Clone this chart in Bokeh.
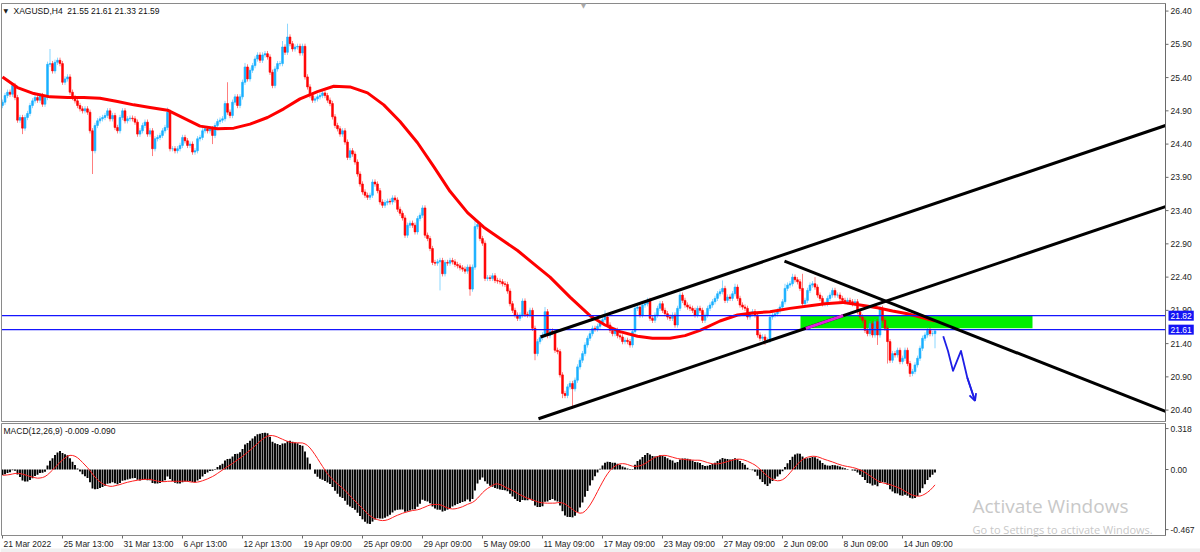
import numpy as np
from bokeh.plotting import figure
from bokeh.layouts import column
from bokeh.models import Range1d, Label, Arrow, OpenHead
from bokeh.embed import file_html
from bokeh.resources import INLINE

# ---------------- data ----------------
symbol_title = "XAGUSD,H4\u00a0\u00a021.55 21.61 21.33 21.59"
macd_title = "MACD(12,26,9) -0.009 -0.090"
watermark_1 = "Activate Windows"
watermark_2 = "Go to Settings to activate Windows."

closes = [
    25.03, 25.13, 25.18, 25.15, 25.28, 25.10, 24.76, 24.80, 24.64, 24.80,   # 0
    24.86, 24.98, 25.05, 25.10, 25.06, 25.13, 25.00, 25.10, 25.60, 25.61,   # 10
    25.50, 25.63, 25.66, 25.61, 25.33, 25.38, 25.41, 25.18, 25.10, 25.05,   # 20
    24.98, 24.93, 24.90, 24.93, 24.88, 24.60, 24.30, 24.68, 24.75, 24.78,   # 30
    24.80, 24.83, 24.90, 24.78, 24.83, 24.65, 24.60, 24.80, 24.90, 24.75,   # 40
    24.78, 24.79, 24.78, 24.73, 24.55, 24.60, 24.68, 24.73, 24.55, 24.60,   # 50
    24.33, 24.48, 24.50, 24.53, 24.60, 24.65, 24.88, 24.33, 24.33, 24.30,   # 60
    24.33, 24.38, 24.50, 24.45, 24.38, 24.40, 24.28, 24.30, 24.48, 24.50,   # 70
    24.60, 24.63, 24.60, 24.63, 24.53, 24.68, 24.74, 24.76, 24.78, 25.01,   # 80
    24.88, 24.83, 25.03, 25.11, 24.98, 25.11, 25.33, 25.56, 25.38, 25.51,   # 90
    25.58, 25.68, 25.74, 25.66, 25.74, 25.76, 25.71, 25.48, 25.28, 25.53,   # 100
    25.61, 25.61, 25.86, 25.78, 26.01, 25.91, 25.83, 25.86, 25.87, 25.77,   # 110
    25.87, 25.41, 25.26, 25.13, 25.06, 25.08, 25.11, 25.13, 25.17, 25.13,   # 120
    25.06, 25.01, 24.81, 24.68, 24.63, 24.55, 24.60, 24.43, 24.20, 24.30,   # 130
    24.25, 24.13, 23.95, 23.80, 23.68, 23.63, 23.60, 23.63, 23.83, 23.80,   # 140
    23.70, 23.53, 23.48, 23.52, 23.54, 23.53, 23.59, 23.56, 23.42, 23.36,   # 150
    23.29, 23.03, 23.18, 23.21, 23.18, 23.08, 23.28, 23.33, 23.44, 23.03,   # 160
    22.98, 22.83, 22.62, 22.61, 22.63, 22.65, 22.45, 22.62, 22.61, 22.65,   # 170
    22.63, 22.59, 22.57, 22.54, 22.52, 22.49, 22.55, 22.22, 22.55, 23.16,   # 180
    23.19, 22.98, 22.91, 22.38, 22.39, 22.38, 22.42, 22.35, 22.34, 22.33,   # 190
    22.30, 22.29, 22.19, 22.00, 21.90, 21.83, 21.78, 21.83, 22.04, 21.84,   # 200
    21.83, 21.90, 21.63, 21.25, 21.43, 21.49, 21.53, 21.88, 21.52, 21.59,   # 210
    21.57, 21.30, 21.28, 20.93, 20.65, 20.62, 20.75, 20.80, 20.72, 20.85,   # 220
    21.05, 21.15, 21.25, 21.38, 21.48, 21.55, 21.63, 21.62, 21.66, 21.72,   # 230
    21.76, 21.80, 21.68, 21.60, 21.55, 21.60, 21.52, 21.50, 21.43, 21.45,   # 240
    21.43, 21.38, 21.58, 21.93, 21.95, 21.83, 21.98, 22.00, 22.05, 21.78,   # 250
    21.75, 21.83, 21.93, 22.00, 21.90, 21.85, 21.80, 21.78, 21.83, 21.68,   # 260
    21.93, 22.13, 22.05, 21.98, 21.95, 21.93, 21.90, 21.83, 21.93, 21.90,   # 270
    21.75, 21.83, 21.93, 21.98, 22.03, 22.08, 22.15, 22.18, 22.23, 22.05,   # 280
    22.10, 22.08, 22.15, 22.25, 22.08, 21.98, 21.95, 21.93, 21.80, 21.85,   # 290
    21.88, 21.83, 21.53, 21.48, 21.50, 21.45, 21.45, 21.80, 21.83, 21.85,   # 300
    21.89, 21.95, 22.03, 22.23, 22.28, 22.30, 22.40, 22.36, 22.33, 22.23,   # 310
    22.00, 22.05, 22.20, 22.28, 22.30, 22.25, 22.13, 22.08, 22.00, 22.00,   # 320
    22.08, 22.13, 22.20, 22.13, 22.13, 22.08, 22.05, 22.03, 22.05, 22.03,   # 330
    22.00, 22.03, 21.88, 21.80, 21.75, 21.60, 21.55, 21.70, 21.53, 21.73,   # 340
    21.53, 21.93, 21.75, 21.63, 21.43, 21.15, 21.25, 21.23, 21.30, 21.13,   # 350
    21.18, 21.30, 21.10, 20.95, 20.98, 21.08, 21.18, 21.33, 21.48, 21.53,   # 360
    21.60, 21.55, 21.55, 21.59,                                             # 370
]
first_open = 24.98
typical_wick = 0.04
high_overrides = {19: 25.83, 66: 24.95, 90: 25.33, 97: 25.62, 112: 25.95, 114: 26.21,
                  189: 23.25, 217: 21.95, 241: 21.90, 288: 22.35, 293: 22.30,
                  313: 22.30, 316: 22.45, 320: 22.45, 325: 22.40, 351: 21.97, 373: 21.61}
low_overrides = {8: 24.55, 36: 23.95, 60: 24.22, 84: 24.40, 175: 22.20, 187: 22.12,
                 213: 21.15, 224: 20.58, 228: 20.42, 305: 21.38, 350: 21.38,
                 354: 21.10, 363: 20.90, 373: 21.33}

# moving average (bar index, price)
ma_bars = [0, 6, 12.5, 19, 26, 32.5, 39, 46, 52.5, 59, 66, 72.5, 79, 86, 92.5, 99,
           106, 112.5, 119, 126, 132.5, 139, 146, 152.5, 159, 166, 172.5, 179, 186,
           192.5, 199, 206, 212.5, 219, 227, 235, 241, 247, 254, 260, 267, 273, 279,
           287, 294, 300, 307, 315, 323, 329, 336, 343, 350, 356, 362, 367, 373]
ma_vals = [25.41, 25.25, 25.16, 25.11, 25.10, 25.10, 25.09, 25.04, 24.99, 24.95, 24.91,
           24.79, 24.67, 24.63, 24.64, 24.70, 24.80, 24.93, 25.08, 25.19, 25.27, 25.26,
           25.17, 24.99, 24.74, 24.42, 24.06, 23.69, 23.37, 23.15, 22.98, 22.80, 22.60,
           22.40, 22.10, 21.82, 21.68, 21.58, 21.51, 21.48, 21.48, 21.52, 21.60, 21.74,
           21.83, 21.86, 21.88, 21.93, 21.97, 22.00, 22.02, 21.98, 21.94, 21.89, 21.85,
           21.80, 21.74]

macd_seed_fast = 25.10
macd_seed_slow = 25.14
macd_seed_signal = -0.045

price_ticks = [20.40, 20.90, 21.40, 21.90, 22.40, 22.90, 23.40, 23.90, 24.40,
               24.90, 25.40, 25.90, 26.40]
macd_ticks = [0.318, 0.0, -0.467]
macd_tick_labels = ["0.318", "0.00", "-0.467"]
time_tick_bars = [0, 24, 48, 72, 96, 120, 144, 168, 192, 216, 240, 264, 288, 312, 336, 360]
time_tick_labels = ["21 Mar 2022", "25 Mar 13:00", "31 Mar 13:00", "6 Apr 13:00",
                    "12 Apr 13:00", "19 Apr 09:00", "25 Apr 09:00", "29 Apr 09:00",
                    "5 May 09:00", "11 May 09:00", "17 May 09:00", "23 May 09:00",
                    "27 May 09:00", "2 Jun 09:00", "8 Jun 09:00", "14 Jun 09:00"]

level_prices = [21.82, 21.61]
zone_bars = [319.2, 412.0]
zone_prices = [21.63, 21.82]

# trend lines, from their start to where they meet the price scale
channel_low_bars = [214.4, 465.2]
channel_low_prices = [20.27, 23.46]
channel_up_bars = [215.2, 465.2]
channel_up_prices = [21.50, 24.68]
down_line_bars = [312.8, 465.2]
down_line_prices = [22.64, 20.38]

arrow_bars = [376.3, 378.2, 380.2, 383.4, 385.9, 389.0]
arrow_prices = [21.51, 21.29, 20.99, 21.29, 20.89, 20.54]

# ---------------- derived values ----------------
n = len(closes)
bars = list(range(n))
opens = [first_open] + closes[:-1]
highs = [high_overrides.get(i, max(o, c) + typical_wick) for i, (o, c) in enumerate(zip(opens, closes))]
lows = [low_overrides.get(i, min(o, c) - typical_wick) for i, (o, c) in enumerate(zip(opens, closes))]
body_top = [max(o, c) for o, c in zip(opens, closes)]
body_bot = [min(o, c) for o, c in zip(opens, closes)]
BULL, BEAR = "#1AB0FF", "#FF0000"
body_col = [BULL if c >= o else BEAR for o, c in zip(opens, closes)]

# MACD(12,26,9): main = EMA12 - EMA26, signal = SMA9 of main
a12, a26 = 2 / 13, 2 / 27
e12, e26 = macd_seed_fast, macd_seed_slow
macd_main = []
for c in closes:
    e12 += a12 * (c - e12)
    e26 += a26 * (c - e26)
    macd_main.append(e12 - e26)
hist_ext = [macd_seed_signal] * 8 + macd_main
macd_signal = [float(np.mean(hist_ext[i:i + 9])) for i in range(n)]

# lower channel segment inside the zone (drawn magenta, as MT4 xor-draws it)
slope = (channel_low_prices[1] - channel_low_prices[0]) / (channel_low_bars[1] - channel_low_bars[0])
def bar_at(price):
    return channel_low_bars[0] + (price - channel_low_prices[0]) / slope
mg_bars = [max(bar_at(zone_prices[0]), zone_bars[0]), min(bar_at(zone_prices[1]), zone_bars[1])]
mg_prices = [channel_low_prices[0] + (b - channel_low_bars[0]) * slope for b in mg_bars]

# ---------------- layout constants (pixels -> data) ----------------
PX_PER_BAR = 2.5
X0, X1 = -0.8, 479.2                  # 1200 px wide canvas
AXIS_X = 465.2                        # price scale line
LEFT_X = -0.4                         # left border
FONT = "Liberation Sans"
FS = "8.5px"
TXT = "#1c1c1c"
FRAME = "#8a8a8a"

# ---------------- main price panel ----------------
P_TOP, P_BOT = 26.559, 20.214         # 422 px tall canvas
PP = 422 / (P_TOP - P_BOT)            # px per price unit
frame_top = P_TOP - 3 / PP
frame_bot = P_TOP - 421 / PP

p = figure(width=1200, height=422, x_range=Range1d(X0, X1), y_range=Range1d(P_BOT, P_TOP),
           output_backend="svg", toolbar_location=None, x_axis_location=None,
           y_axis_location=None, min_border=0, outline_line_color=None)
p.xgrid.visible = False
p.ygrid.visible = False
p.background_fill_color = "white"
p.border_fill_color = "white"

# zone rectangle (background)
p.quad(left=[zone_bars[0]], right=[zone_bars[1]], bottom=[zone_prices[0]], top=[zone_prices[1]],
       fill_color="#00EE00", line_color=None)

# candles
p.segment(x0=bars, y0=lows, x1=bars, y1=highs, line_color=body_col, line_alpha=0.5, line_width=1)
p.vbar(x=bars, top=body_top, bottom=body_bot, width=0.74, fill_color=body_col,
       line_color=body_col, line_width=0.6)

# moving average
p.line(ma_bars, ma_vals, line_color="#FF0000", line_width=3, line_join="round")

# horizontal levels
p.segment(x0=[LEFT_X] * 2, x1=[AXIS_X] * 2, y0=level_prices, y1=level_prices,
          line_color="#1515FF", line_width=1.2)

# trend lines
for xs, ys in [(channel_low_bars, channel_low_prices), (channel_up_bars, channel_up_prices),
               (down_line_bars, down_line_prices)]:
    p.line(xs, ys, line_color="black", line_width=3)
p.line(mg_bars, mg_prices, line_color="#E020E0", line_width=3)

# hand-drawn blue arrow
p.line(arrow_bars, arrow_prices, line_color="#1E1EE6", line_width=1.8, line_join="round")
p.add_layout(Arrow(end=OpenHead(size=7, line_color="#1E1EE6", line_width=1.8),
                   line_color="#1E1EE6", line_width=1.8,
                   x_start=arrow_bars[-2], y_start=arrow_prices[-2],
                   x_end=arrow_bars[-1], y_end=arrow_prices[-1]))

# panel border and price scale
p.quad(left=[LEFT_X], right=[AXIS_X], bottom=[frame_bot], top=[frame_top],
       fill_color=None, line_color=FRAME, line_width=1)
p.line([AXIS_X, AXIS_X], [frame_bot, frame_top], line_color="#6a6a6a", line_width=1)
p.segment(x0=[AXIS_X] * len(price_ticks), x1=[AXIS_X + 3 / PX_PER_BAR] * len(price_ticks),
          y0=price_ticks, y1=price_ticks, line_color="#6a6a6a", line_width=1)
for t in price_ticks:
    p.add_layout(Label(x=AXIS_X, y=t, x_offset=5, text=f"{t:.2f}", text_baseline="middle",
                       text_align="left", text_font=FONT, text_font_size=FS, text_color=TXT))
for lv in level_prices:
    p.add_layout(Label(x=AXIS_X, y=lv, text=f"{lv:.2f}", x_offset=3,
                       text_baseline="middle", text_align="left",
                       text_font=FONT, text_font_size=FS, text_color="white",
                       background_fill_color="#1414F5", padding=2))

# title
p.add_layout(Label(x=LEFT_X, y=frame_top, x_offset=2, y_offset=-7, text="\u25bc",
                   text_font="DejaVu Sans", text_font_size="6px", text_color="#202020",
                   text_baseline="middle"))
p.add_layout(Label(x=LEFT_X, y=frame_top, x_offset=12, y_offset=-7, text=symbol_title,
                   text_font=FONT, text_font_size=FS, text_color="#101010",
                   text_baseline="middle"))
# chart-shift marker
p.add_layout(Label(x=232.4, y=P_TOP, y_offset=-1, text="\u25bc",
                   text_font="DejaVu Sans", text_font_size="7px", text_color="#a8a8a8",
                   text_baseline="top", text_align="center"))

# ---------------- MACD panel ----------------
M_TOP = 47 / 128.7                    # zero line 47 px below the canvas top
M_BOT = M_TOP - 130 / 128.7           # 130 px tall canvas
MP = 128.7
m_frame_top = M_TOP - 1 / MP
m_frame_bot = M_TOP - 113 / MP

q = figure(width=1200, height=130, x_range=p.x_range, y_range=Range1d(M_BOT, M_TOP),
           output_backend="svg", toolbar_location=None, x_axis_location=None,
           y_axis_location=None, min_border=0, outline_line_color=None)
q.xgrid.visible = False
q.ygrid.visible = False
q.background_fill_color = "white"
q.border_fill_color = "white"

# window strip under the time scale
q.quad(left=[X0], right=[X1], bottom=[M_BOT], top=[M_TOP - 126 / MP],
       fill_color="#f0f0f0", line_color=None)

q.vbar(x=bars, top=macd_main, bottom=0, width=0.76, fill_color="black", line_color=None)
q.line(bars, macd_signal, line_color="#FF2020", line_width=1)

# watermark
q.add_layout(Label(x=388, y=m_frame_bot, y_offset=17, text=watermark_1,
                   text_font="Open Sans", text_font_size="19px", text_color="#c8c8c8",
                   text_baseline="bottom"))
q.add_layout(Label(x=388, y=m_frame_bot, y_offset=-1, text=watermark_2,
                   text_font="Open Sans", text_font_size="11px", text_color="#c8c8c8",
                   text_baseline="bottom"))

q.quad(left=[LEFT_X], right=[AXIS_X], bottom=[m_frame_bot], top=[m_frame_top],
       fill_color=None, line_color=FRAME, line_width=1)
q.line([AXIS_X, AXIS_X], [m_frame_bot, m_frame_top], line_color="#6a6a6a", line_width=1)
q.segment(x0=[AXIS_X] * 3, x1=[AXIS_X + 3 / PX_PER_BAR] * 3, y0=macd_ticks, y1=macd_ticks,
          line_color="#6a6a6a", line_width=1)
for t, s in zip(macd_ticks, macd_tick_labels):
    q.add_layout(Label(x=AXIS_X, y=t, x_offset=5, text=s, text_baseline="middle",
                       text_align="left", text_font=FONT, text_font_size=FS, text_color=TXT))

# time scale
q.segment(x0=time_tick_bars, x1=time_tick_bars, y0=[m_frame_bot] * len(time_tick_bars),
          y1=[m_frame_bot - 3 / MP] * len(time_tick_bars), line_color="#6a6a6a", line_width=1)
for b, s in zip(time_tick_bars, time_tick_labels):
    q.add_layout(Label(x=b, y=m_frame_bot, x_offset=1, y_offset=-8, text=s,
                       text_baseline="middle", text_align="left",
                       text_font=FONT, text_font_size=FS, text_color=TXT))

q.add_layout(Label(x=LEFT_X, y=m_frame_top, x_offset=2, y_offset=-7, text=macd_title,
                   text_font=FONT, text_font_size=FS, text_color="#101010",
                   text_baseline="middle"))

layout = column(p, q, spacing=0)
open("out.html", "w").write(file_html(layout, INLINE))
